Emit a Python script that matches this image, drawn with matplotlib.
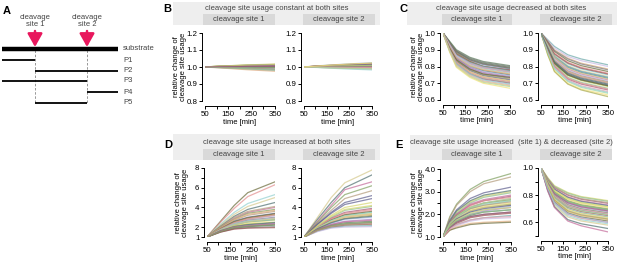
import matplotlib
matplotlib.use("Agg")
import matplotlib.pyplot as plt

plt.rcParams['font.family'] = ['Liberation Sans', 'DejaVu Sans']

W, H = 617, 264

# ---------------- data ----------------
T_B = [50, 110, 230, 350]
T_CE = [50, 80, 110, 170, 230, 350]
T_D = [50, 110, 170, 230, 350]

xticks = [50, 100, 150, 200, 250, 300, 350]
xticklabels = ['50', '', '150', '', '250', '', '350']

B1 = [
    [1.0, 1.004, 1.008, 1.012], [1.0, 1.006, 1.011, 1.015], [1.0, 1.005, 1.010, 1.016],
    [1.0, 1.003, 1.007, 1.010], [1.0, 1.002, 1.004, 1.006], [1.0, 1.004, 1.009, 1.013],
    [1.0, 1.001, 1.002, 1.003], [1.0, 0.999, 0.998, 0.997], [1.0, 0.998, 0.994, 0.990],
    [1.0, 0.997, 0.990, 0.984], [1.0, 0.996, 0.987, 0.979], [1.0, 0.995, 0.984, 0.975],
    [1.0, 1.000, 0.999, 1.000], [1.0, 1.003, 1.006, 1.008], [1.0, 0.999, 0.996, 0.993],
    [1.0, 1.005, 1.012, 1.018], [1.0, 1.004, 1.010, 1.014], [1.0, 1.002, 1.006, 1.009],
    [1.0, 1.001, 1.000, 0.998], [1.0, 0.998, 0.992, 0.987], [1.0, 1.003, 1.005, 1.007],
    [1.0, 1.005, 1.011, 1.014], [1.0, 0.997, 0.989, 0.981], [1.0, 1.002, 1.003, 1.004],
]
B2 = [
    [1.0, 1.006, 1.015, 1.022], [1.0, 1.007, 1.017, 1.025], [1.0, 1.005, 1.012, 1.018],
    [1.0, 1.004, 1.010, 1.015], [1.0, 1.003, 1.008, 1.012], [1.0, 1.006, 1.013, 1.020],
    [1.0, 1.002, 1.005, 1.008], [1.0, 1.001, 1.002, 1.004], [1.0, 1.000, 0.999, 0.999],
    [1.0, 0.999, 0.996, 0.994], [1.0, 0.998, 0.992, 0.988], [1.0, 0.997, 0.989, 0.983],
    [1.0, 0.998, 0.994, 0.991], [1.0, 1.004, 1.009, 1.013], [1.0, 1.005, 1.011, 1.016],
    [1.0, 1.001, 1.003, 1.006], [1.0, 1.005, 1.014, 1.021], [1.0, 1.004, 1.011, 1.017],
    [1.0, 1.003, 1.007, 1.010], [1.0, 1.002, 1.004, 1.006], [1.0, 1.000, 1.000, 1.001],
    [1.0, 0.999, 0.997, 0.996], [1.0, 0.998, 0.993, 0.990], [1.0, 1.006, 1.016, 1.023],
]
C1 = [
    [1.0, 0.95, 0.90, 0.855, 0.83, 0.805], [1.0, 0.945, 0.895, 0.85, 0.825, 0.80],
    [1.0, 0.94, 0.89, 0.84, 0.815, 0.79], [1.0, 0.94, 0.885, 0.835, 0.81, 0.785],
    [1.0, 0.935, 0.88, 0.83, 0.805, 0.78], [1.0, 0.935, 0.875, 0.825, 0.80, 0.775],
    [1.0, 0.93, 0.87, 0.82, 0.795, 0.77], [1.0, 0.93, 0.865, 0.815, 0.79, 0.765],
    [1.0, 0.925, 0.86, 0.81, 0.785, 0.76], [1.0, 0.925, 0.855, 0.805, 0.78, 0.755],
    [1.0, 0.92, 0.85, 0.80, 0.775, 0.75], [1.0, 0.915, 0.845, 0.795, 0.765, 0.74],
    [1.0, 0.915, 0.84, 0.785, 0.755, 0.73], [1.0, 0.91, 0.835, 0.78, 0.75, 0.725],
    [1.0, 0.905, 0.83, 0.775, 0.745, 0.72], [1.0, 0.905, 0.825, 0.77, 0.74, 0.715],
    [1.0, 0.90, 0.82, 0.76, 0.73, 0.705], [1.0, 0.90, 0.815, 0.755, 0.725, 0.70],
    [1.0, 0.895, 0.81, 0.75, 0.715, 0.69], [1.0, 0.89, 0.80, 0.74, 0.705, 0.68],
    [1.0, 0.885, 0.795, 0.735, 0.70, 0.67], [1.0, 0.94, 0.88, 0.83, 0.80, 0.775],
    [1.0, 0.925, 0.86, 0.80, 0.77, 0.745], [1.0, 0.92, 0.85, 0.79, 0.76, 0.735],
    [1.0, 0.945, 0.89, 0.845, 0.82, 0.795], [1.0, 0.94, 0.885, 0.84, 0.815, 0.79],
    [1.0, 0.935, 0.875, 0.83, 0.80, 0.78], [1.0, 0.93, 0.87, 0.825, 0.80, 0.775],
    [1.0, 0.93, 0.865, 0.82, 0.795, 0.77], [1.0, 0.92, 0.855, 0.805, 0.78, 0.755],
    [1.0, 0.91, 0.84, 0.785, 0.755, 0.735], [1.0, 0.90, 0.825, 0.765, 0.735, 0.71],
    [1.0, 0.895, 0.815, 0.755, 0.72, 0.695], [1.0, 0.89, 0.805, 0.745, 0.71, 0.685],
]
C2 = [
    [1.0, 0.96, 0.92, 0.87, 0.845, 0.81], [1.0, 0.955, 0.91, 0.86, 0.835, 0.80],
    [1.0, 0.95, 0.90, 0.85, 0.82, 0.785], [1.0, 0.945, 0.89, 0.835, 0.805, 0.77],
    [1.0, 0.94, 0.88, 0.825, 0.795, 0.76], [1.0, 0.935, 0.87, 0.815, 0.785, 0.75],
    [1.0, 0.93, 0.865, 0.805, 0.775, 0.74], [1.0, 0.925, 0.855, 0.795, 0.765, 0.73],
    [1.0, 0.92, 0.85, 0.785, 0.755, 0.72], [1.0, 0.915, 0.84, 0.775, 0.745, 0.71],
    [1.0, 0.91, 0.83, 0.765, 0.735, 0.70], [1.0, 0.905, 0.825, 0.755, 0.725, 0.69],
    [1.0, 0.90, 0.815, 0.745, 0.715, 0.68], [1.0, 0.895, 0.81, 0.735, 0.705, 0.67],
    [1.0, 0.89, 0.80, 0.725, 0.695, 0.66], [1.0, 0.885, 0.795, 0.72, 0.685, 0.65],
    [1.0, 0.88, 0.785, 0.71, 0.675, 0.64], [1.0, 0.875, 0.775, 0.70, 0.665, 0.63],
    [1.0, 0.87, 0.77, 0.695, 0.66, 0.62], [1.0, 0.93, 0.86, 0.80, 0.77, 0.735],
    [1.0, 0.915, 0.835, 0.77, 0.74, 0.705], [1.0, 0.90, 0.82, 0.75, 0.72, 0.685],
    [1.0, 0.95, 0.895, 0.845, 0.815, 0.78], [1.0, 0.94, 0.875, 0.82, 0.79, 0.755],
    [1.0, 0.93, 0.86, 0.80, 0.77, 0.735], [1.0, 0.92, 0.845, 0.78, 0.75, 0.715],
    [1.0, 0.91, 0.835, 0.77, 0.74, 0.705], [1.0, 0.905, 0.82, 0.75, 0.72, 0.685],
    [1.0, 0.895, 0.805, 0.73, 0.70, 0.665], [1.0, 0.885, 0.79, 0.715, 0.68, 0.645],
    [1.0, 0.93, 0.855, 0.79, 0.76, 0.725], [1.0, 0.915, 0.83, 0.76, 0.73, 0.695],
]
D1 = [
    [1, 2.6, 4.2, 5.5, 6.6], [1, 2.5, 3.9, 5.1, 6.3], [1, 2.3, 3.5, 4.4, 5.3],
    [1, 2.2, 3.3, 4.1, 5.0], [1, 2.1, 3.1, 3.8, 4.5], [1, 2.0, 2.9, 3.5, 4.0],
    [1, 2.0, 2.8, 3.4, 3.8], [1, 1.9, 2.7, 3.2, 3.6], [1, 1.9, 2.6, 3.0, 3.4],
    [1, 1.85, 2.5, 2.9, 3.3], [1, 1.8, 2.4, 2.8, 3.2], [1, 1.8, 2.35, 2.7, 3.0],
    [1, 1.75, 2.3, 2.6, 2.9], [1, 1.7, 2.2, 2.5, 2.8], [1, 1.7, 2.15, 2.4, 2.7],
    [1, 1.65, 2.1, 2.3, 2.5], [1, 1.6, 2.0, 2.2, 2.4], [1, 1.6, 1.95, 2.1, 2.3],
    [1, 1.55, 1.9, 2.05, 2.2], [1, 1.5, 1.85, 1.95, 2.05], [1, 1.5, 1.8, 1.9, 1.95],
    [1, 1.75, 2.25, 2.55, 2.75], [1, 1.85, 2.45, 2.85, 3.15],
    [1, 1.95, 2.75, 3.3, 3.7], [1, 1.85, 2.55, 2.95, 3.35], [1, 1.8, 2.45, 2.85, 3.25],
    [1, 1.75, 2.35, 2.65, 2.95], [1, 1.7, 2.25, 2.55, 2.85], [1, 1.65, 2.05, 2.25, 2.45],
    [1, 1.6, 2.0, 2.15, 2.35], [1, 1.55, 1.95, 2.1, 2.25], [1, 2.05, 3.0, 3.6, 4.1],
]
D2 = [
    [1, 3.0, 5.0, 6.5, 7.8], [1, 2.8, 4.5, 6.0, 7.3], [1, 2.6, 4.2, 5.8, 6.6],
    [1, 2.5, 4.0, 5.3, 6.2], [1, 2.4, 3.7, 4.9, 5.7], [1, 2.3, 3.5, 4.5, 5.2],
    [1, 2.2, 3.2, 4.0, 4.5], [1, 2.1, 3.0, 3.7, 4.1], [1, 2.0, 2.9, 3.5, 3.9],
    [1, 2.0, 2.8, 3.3, 3.7], [1, 1.95, 2.7, 3.2, 3.5], [1, 1.9, 2.6, 3.1, 3.4],
    [1, 1.85, 2.5, 2.9, 3.2], [1, 1.8, 2.4, 2.8, 3.0], [1, 1.8, 2.3, 2.6, 2.8],
    [1, 1.75, 2.2, 2.45, 2.6], [1, 1.7, 2.1, 2.3, 2.45], [1, 1.65, 2.0, 2.2, 2.3],
    [1, 1.6, 1.95, 2.1, 2.15], [1, 1.55, 1.9, 2.0, 2.05], [1, 1.9, 2.55, 3.0, 3.3],
    [1, 2.0, 2.75, 3.25, 3.6],
    [1, 2.05, 2.85, 3.4, 3.8], [1, 1.95, 2.65, 3.15, 3.5], [1, 1.9, 2.55, 3.05, 3.35],
    [1, 1.85, 2.45, 2.85, 3.1], [1, 1.75, 2.25, 2.55, 2.7], [1, 1.7, 2.15, 2.35, 2.5],
    [1, 1.65, 2.05, 2.25, 2.35], [1, 2.3, 3.4, 4.3, 4.9], [1, 2.1, 3.1, 3.8, 4.2],
]
E1 = [
    [1, 1.9, 2.45, 3.1, 3.45, 3.8], [1, 1.85, 2.4, 3.0, 3.35, 3.65],
    [1, 1.75, 2.2, 2.7, 2.95, 3.2], [1, 1.7, 2.1, 2.55, 2.8, 3.0],
    [1, 1.65, 2.05, 2.5, 2.75, 2.95], [1, 1.65, 2.0, 2.4, 2.6, 2.8],
    [1, 1.6, 1.95, 2.35, 2.5, 2.7], [1, 1.6, 1.9, 2.25, 2.4, 2.6],
    [1, 1.55, 1.85, 2.2, 2.35, 2.5], [1, 1.55, 1.8, 2.15, 2.3, 2.45],
    [1, 1.5, 1.75, 2.1, 2.2, 2.35], [1, 1.5, 1.75, 2.0, 2.15, 2.3],
    [1, 1.45, 1.7, 1.95, 2.1, 2.2], [1, 1.45, 1.65, 1.9, 2.0, 2.1],
    [1, 1.4, 1.6, 1.85, 1.95, 2.05], [1, 1.4, 1.55, 1.75, 1.85, 1.95],
    [1, 1.35, 1.5, 1.7, 1.8, 1.85], [1, 1.3, 1.45, 1.6, 1.65, 1.7],
    [1, 1.3, 1.4, 1.55, 1.6, 1.65], [1, 1.6, 1.95, 2.4, 2.6, 2.75],
    [1, 1.55, 1.85, 2.25, 2.45, 2.6], [1, 1.5, 1.8, 2.15, 2.3, 2.4],
    [1, 1.7, 2.15, 2.6, 2.85, 3.05], [1, 1.65, 2.0, 2.45, 2.65, 2.85],
    [1, 1.6, 1.95, 2.3, 2.5, 2.65], [1, 1.55, 1.9, 2.25, 2.4, 2.55],
    [1, 1.5, 1.8, 2.1, 2.25, 2.4], [1, 1.5, 1.75, 2.05, 2.2, 2.3],
    [1, 1.45, 1.7, 2.0, 2.1, 2.2], [1, 1.4, 1.65, 1.9, 2.0, 2.1],
    [1, 1.35, 1.55, 1.75, 1.85, 1.9], [1, 1.6, 1.9, 2.3, 2.5, 2.7],
]
E2 = [
    [1, 0.93, 0.87, 0.82, 0.79, 0.76], [1, 0.925, 0.865, 0.815, 0.785, 0.755],
    [1, 0.92, 0.855, 0.80, 0.77, 0.74], [1, 0.915, 0.845, 0.79, 0.76, 0.73],
    [1, 0.91, 0.84, 0.78, 0.75, 0.72], [1, 0.905, 0.83, 0.77, 0.74, 0.71],
    [1, 0.90, 0.825, 0.76, 0.73, 0.70], [1, 0.895, 0.815, 0.75, 0.72, 0.69],
    [1, 0.89, 0.81, 0.74, 0.71, 0.68], [1, 0.885, 0.80, 0.73, 0.70, 0.67],
    [1, 0.88, 0.79, 0.72, 0.69, 0.66], [1, 0.875, 0.785, 0.71, 0.68, 0.65],
    [1, 0.87, 0.775, 0.70, 0.67, 0.64], [1, 0.865, 0.77, 0.69, 0.66, 0.63],
    [1, 0.86, 0.76, 0.68, 0.65, 0.62], [1, 0.855, 0.75, 0.67, 0.64, 0.61],
    [1, 0.85, 0.74, 0.66, 0.63, 0.60], [1, 0.845, 0.735, 0.65, 0.62, 0.59],
    [1, 0.84, 0.725, 0.64, 0.61, 0.58], [1, 0.835, 0.715, 0.62, 0.59, 0.555],
    [1, 0.83, 0.71, 0.61, 0.575, 0.53], [1, 0.90, 0.82, 0.755, 0.725, 0.695],
    [1, 0.92, 0.86, 0.805, 0.775, 0.745], [1, 0.91, 0.845, 0.785, 0.755, 0.725],
    [1, 0.905, 0.835, 0.775, 0.745, 0.715], [1, 0.895, 0.82, 0.755, 0.725, 0.695],
    [1, 0.89, 0.81, 0.745, 0.715, 0.685], [1, 0.88, 0.795, 0.725, 0.695, 0.665],
    [1, 0.875, 0.785, 0.715, 0.685, 0.655], [1, 0.865, 0.77, 0.695, 0.665, 0.635],
    [1, 0.86, 0.765, 0.685, 0.655, 0.625], [1, 0.85, 0.745, 0.665, 0.635, 0.60],
]

palette = ["#e7a1b0", "#a6d9a0", "#f2e27a", "#a8a84a", "#9fb6e0", "#a888c8",
           "#5b7d5b", "#7a7a7a", "#9a4e4e", "#6aa8a8", "#c9b9e3", "#e3b183",
           "#6b6b3a", "#e28e8e", "#93d1d1", "#d5c98d", "#4f6f6f", "#c46b9a",
           "#7f9f5f", "#b39b7b", "#5e5e8e", "#d6d66e", "#8fbf8f", "#a05a7a"]

panel_titles = ["cleavage site usage constant at both sites",
                "cleavage site usage decreased at both sites",
                "cleavage site usage increased at both sites",
                "cleavage site usage increased  (site 1) & decreased (site 2)"]
site_labels = ["cleavage site 1", "cleavage site 2"]
ylab = "relative change of\ncleavage site usage"

FS = 5.5
TXT = "#444444"

fig = plt.figure(figsize=(W / 100, H / 100), dpi=100)
ov = fig.add_axes([0, 0, 1, 1])
ov.set_xlim(0, W)
ov.set_ylim(H, 0)
ov.axis('off')


def rect(x0, y0, x1, y1, color):
    ov.add_patch(plt.Rectangle((x0, y0), x1 - x0, y1 - y0, color=color, lw=0, zorder=0))


# ---------------- panel A ----------------
ov.text(3, 11, "A", fontsize=8, fontweight='bold', va='center', ha='left')
for xs, lab in [(35, "cleavage\nsite 1"), (87, "cleavage\nsite 2")]:
    ov.text(xs, 21, lab, fontsize=FS, ha='center', va='center', color=TXT, linespacing=1.0)
    ov.annotate("", xy=(xs, 47), xytext=(xs, 31),
                arrowprops=dict(arrowstyle="-|>,head_width=0.45,head_length=0.8",
                                color="#e8175d", lw=1.8, shrinkA=0, shrinkB=0))
    ov.plot([xs, xs], [50, 104], ls=(0, (3, 2)), color="#888888", lw=0.6, zorder=1)
ov.plot([2, 118], [49, 49], color='black', lw=3.2, solid_capstyle='butt', zorder=2)
ov.text(123, 49, "substrate", fontsize=FS, va='center', ha='left', color=TXT)
frags = [("P1", 60, 2, 35), ("P2", 71, 35, 118), ("P3", 81, 2, 87),
         ("P4", 92, 87, 118), ("P5", 103, 35, 87)]
for name, yy, xa, xb in frags:
    ov.plot([xa, xb], [yy, yy], color='black', lw=1.3, solid_capstyle='butt', zorder=2)
    ov.text(123, yy, name, fontsize=FS, va='center', ha='left', color=TXT)

# ---------------- banners ----------------
banners = [
    ("B", (163, 9), (173, 380), (2, 14, 25), [(203, 275), (303, 375)], 277),
    ("C", (400, 9), (407, 617), (2, 14, 25), [(442, 512), (540, 612)], 511),
    ("D", (164, 145), (173, 380), (134, 149, 160), [(203, 275), (303, 375)], 277),
    ("E", (395, 145), (410, 612), (135, 149, 160), [(442, 512), (540, 612)], 511),
]
for i, (let, lpos, (bx0, bx1), (by0, bym, by1), subs, tcx) in enumerate(banners):
    ov.text(lpos[0], lpos[1], let, fontsize=8, fontweight='bold', va='center', ha='left')
    rect(bx0, by0, bx1, by1, "#eeeeee")
    ov.text(tcx, (by0 + bym) / 2 + 0.5, panel_titles[i], fontsize=FS, ha='center',
            va='center', color=TXT)
    for j, (sx0, sx1) in enumerate(subs):
        rect(sx0, bym, sx1, by1, "#d9d9d9")
        ov.text((sx0 + sx1) / 2, (bym + by1) / 2, site_labels[j], fontsize=FS,
                ha='center', va='center', color=TXT)

# ---------------- plot axes ----------------
def px(x0, y0, x1, y1):
    return [x0 / W, 1 - y1 / H, (x1 - x0) / W, (y1 - y0) / H]


specs = [
    (B1, T_B, (205, 33, 275, 101), (0.8, 1.2), [0.8, 0.9, 1.0, 1.1, 1.2],
     ['0.8', '0.9', '1.0', '1.1', '1.2'], True),
    (B2, T_B, (304, 33, 372, 101), (0.8, 1.2), [0.8, 0.9, 1.0, 1.1, 1.2],
     ['0.8', '0.9', '1.0', '1.1', '1.2'], False),
    (C1, T_CE, (443, 33, 510, 100), (0.6, 1.0), [0.6, 0.7, 0.8, 0.9, 1.0],
     ['0.6', '0.7', '0.8', '0.9', '1.0'], True),
    (C2, T_CE, (541, 33, 608, 100), (0.6, 1.0), [0.6, 0.7, 0.8, 0.9, 1.0],
     ['0.6', '0.7', '0.8', '0.9', '1.0'], False),
    (D1, T_D, (207, 168, 275, 237), (1, 8), [1, 2, 3, 4, 5, 6, 7, 8],
     ['1', '2', '', '4', '', '6', '', '8'], True),
    (D2, T_D, (304, 168, 372, 237), (1, 8), [1, 2, 3, 4, 5, 6, 7, 8],
     ['1', '2', '', '4', '', '6', '', '8'], False),
    (E1, T_CE, (443, 169, 511, 237), (1, 4), [1, 1.5, 2, 2.5, 3, 3.5, 4],
     ['1.0', '', '2.0', '', '3.0', '', '4.0'], True),
    (E2, T_CE, (541, 168, 608, 236), (0.5, 1.0), [0.5, 0.6, 0.7, 0.8, 0.9, 1.0],
     ['', '0.6', '', '0.8', '', '1.0'], False),
]

for k, (series, times, box, ylim, yt, ytl, left) in enumerate(specs):
    ax = fig.add_axes(px(*box))
    ax.patch.set_alpha(0)
    for i, vals in enumerate(series):
        ax.plot(times, vals, color=palette[(i + 3 * k) % len(palette)], lw=0.9,
                alpha=0.7, solid_joinstyle='round')
    ax.set_xlim(50, 350)
    ax.set_ylim(*ylim)
    ax.set_xticks(xticks)
    ax.set_xticklabels(xticklabels)
    ax.set_yticks(yt)
    ax.set_yticklabels(ytl, rotation=90, va='center')
    for s in ('top', 'right'):
        ax.spines[s].set_visible(False)
    ax.spines['left'].set_position(('outward', 2.2))
    ax.spines['bottom'].set_position(('outward', 3.6))
    for s in ('left', 'bottom'):
        ax.spines[s].set_linewidth(0.7)
    ax.tick_params(length=2.3, width=0.7, pad=1, labelsize=FS + 0.2)
    x0, y0, x1, y1 = box
    ov.text((x0 + x1) / 2, y1 + 21, "time [min]", fontsize=FS, ha='center',
            va='center', color='black')
    if left:
        ov.text(x0 - 25, (y0 + y1) / 2, ylab, fontsize=FS, rotation=90,
                ha='center', va='center', linespacing=0.95)

fig.savefig("out.png", dpi=100)
